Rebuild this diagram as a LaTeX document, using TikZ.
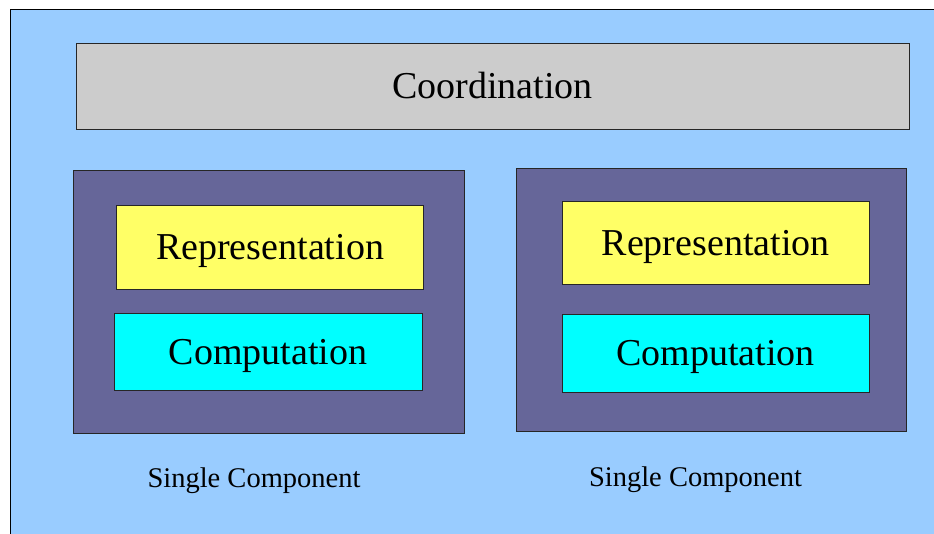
\documentclass[tikz,border=0pt]{standalone}
\usepackage{fontspec}
\setmainfont{Liberation Serif}
\definecolor{bgblue}{HTML}{99CCFF}
\definecolor{coordgray}{HTML}{CCCCCC}
\definecolor{comppurple}{HTML}{666699}
\definecolor{repyellow}{HTML}{FFFF66}
\definecolor{compcyan}{HTML}{00FFFF}
\tikzset{
  box/.style={draw=black!85, line width=0.9pt, rectangle, inner sep=0pt, anchor=center},
  bigtext/.style={font=\fontsize{38}{44}\selectfont, text=black},
  lowtext/.style={bigtext, text depth=1pt},
  labeltext/.style={font=\fontsize{28.5}{32}\selectfont, text=black},
}
\begin{document}
\begin{tikzpicture}[x=1pt,y=1pt]
\useasboundingbox (0,0) rectangle (934,533);
\clip (0,0) rectangle (934,533);
% background
\fill[white] (0,0) rectangle (934,533);
\path[fill=bgblue, draw=black, line width=1pt] (10.7,523.7) rectangle (950,-20);
% coordination
\node[box, fill=coordgray, minimum width=833pt, minimum height=86pt, bigtext] (coord) at (492.5,447) {Coordination};
% left component
\node[box, fill=comppurple, minimum width=390.5pt, minimum height=262.5pt] (lcomp) at (268.7,231) {};
\node[box, fill=repyellow, minimum width=306.5pt, minimum height=83.5pt, lowtext] (lrep) at (270,285.5) {Representation};
\node[box, fill=compcyan, minimum width=307.5pt, minimum height=76.5pt, lowtext] (lcalc) at (268.2,181) {Computation};
\node[labeltext] (llabel) at (254,52) {Single Component};
% right component
\node[box, fill=comppurple, minimum width=390pt, minimum height=263pt] (rcomp) at (711,233.2) {};
\node[box, fill=repyellow, minimum width=307.3pt, minimum height=83.3pt, lowtext] (rrep) at (715.7,289.7) {Representation};
\node[box, fill=compcyan, minimum width=307.3pt, minimum height=78pt, lowtext] (rcalc) at (715.7,179.3) {Computation};
\node[labeltext] (rlabel) at (695.5,53) {Single Component};
\end{tikzpicture}
\end{document}
